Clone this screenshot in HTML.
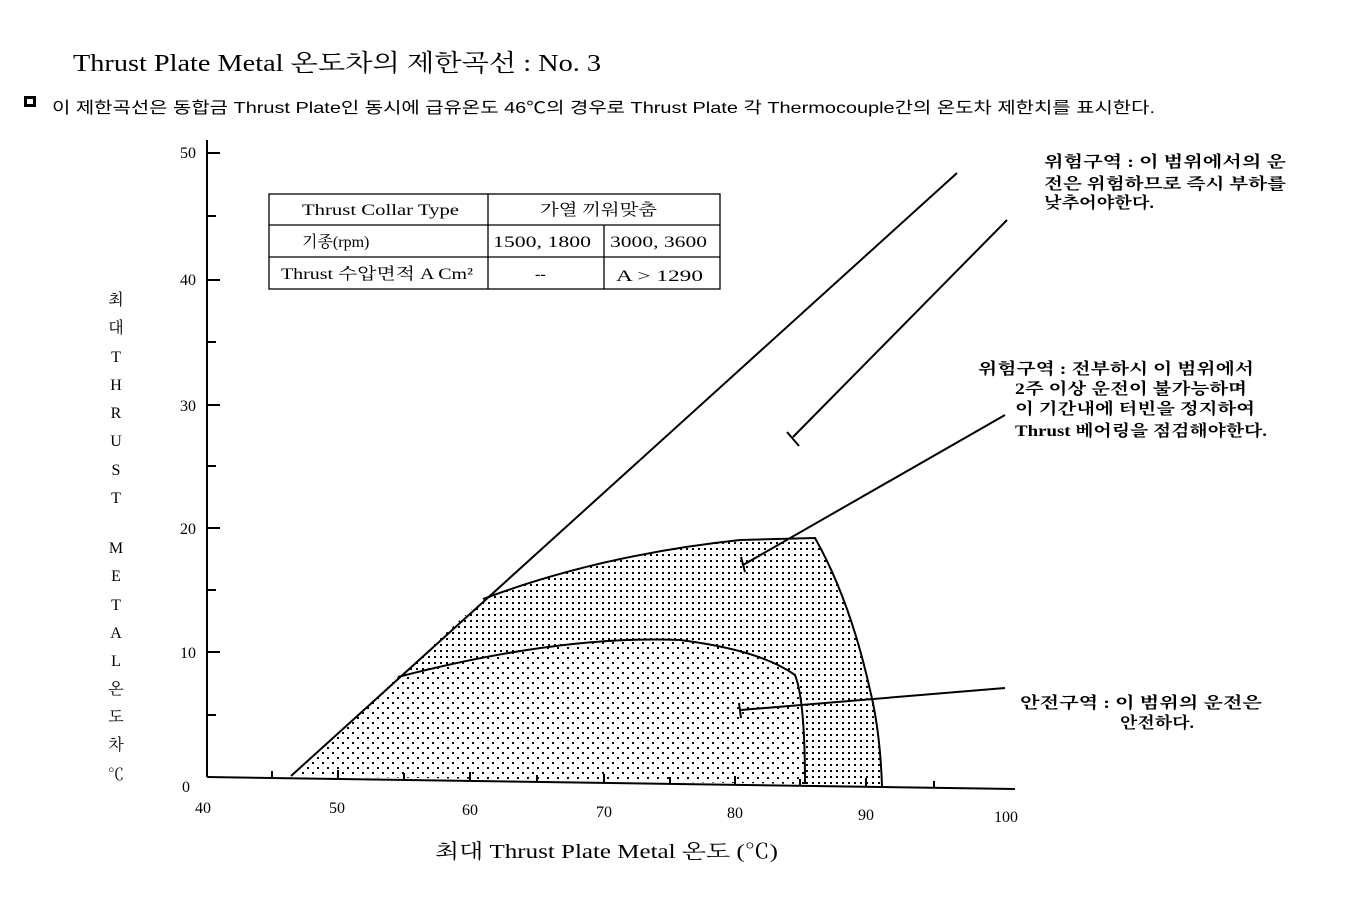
<!DOCTYPE html>
<html><head><meta charset="utf-8"><style>
body{margin:0;background:#fff;width:1347px;height:897px;overflow:hidden}
text{font-family:"Liberation Serif","Noto Serif CJK SC","Noto Sans CJK KR",serif;fill:#000}
.k{font-family:"Liberation Sans","Noto Sans CJK KR",sans-serif}
.b{font-weight:bold}
</style></head><body>
<svg width="1347" height="897" viewBox="0 0 1347 897" xmlns="http://www.w3.org/2000/svg">
<defs>
<pattern id="p1" width="10" height="10" patternUnits="userSpaceOnUse"><rect x="2" y="2" width="2" height="2" fill="#000"/><rect x="7" y="7" width="2" height="2" fill="#000"/></pattern>
<pattern id="p2" width="6" height="6" patternUnits="userSpaceOnUse"><rect x="2" y="2" width="2" height="2" fill="#000"/></pattern>
</defs>
<text x="73" y="71" font-size="24" textLength="528" lengthAdjust="spacingAndGlyphs">Thrust Plate Metal 온도차의 제한곡선 : No. 3</text>
<rect x="24" y="96" width="12" height="11" fill="#000"/>
<rect x="27" y="99" width="6" height="5" fill="#fff"/>
<text x="52" y="113" font-size="16" class="k" textLength="1103" lengthAdjust="spacingAndGlyphs">이 제한곡선은 동합금 Thrust Plate인 동시에 급유온도 46℃의 경우로 Thrust Plate 각 Thermocouple간의 온도차 제한치를 표시한다.</text>
<path d="M483,599 Q600,555 740,540 L815,538 Q850,600 870,690 Q880,730 882,786 L805,784 L805,780 Q805,700 795,675 Q760,650 680,640 Q560,635 398,677 Z" fill="url(#p2)" stroke="none"/>
<path d="M398,677 Q560,635 680,640 Q760,650 795,675 Q805,700 805,784 L291,776 Z" fill="url(#p1)"/>
<g fill="none" stroke="#000" stroke-width="2">
<path d="M483,599 Q600,555 740,540 L815,538 Q850,600 870,690 Q880,730 882,786"/>
<path d="M398,677 Q560,635 680,640 Q760,650 795,675 Q805,700 805,784"/>
<line x1="291" y1="776" x2="957" y2="173"/>
<line x1="1007" y1="220" x2="793" y2="437"/>
<line x1="787" y1="432" x2="799" y2="446"/>
<line x1="1005" y1="415" x2="743" y2="565"/>
<line x1="741" y1="557" x2="745" y2="572"/>
<line x1="1005" y1="688" x2="741" y2="710"/>
<line x1="739" y1="703" x2="741" y2="718"/>
<line x1="207" y1="140" x2="207" y2="777"/>
<line x1="207" y1="777" x2="1015" y2="789"/>
</g>
<g stroke="#000" stroke-width="2">
<line x1="207" y1="153" x2="220" y2="153"/><line x1="207" y1="280" x2="220" y2="280"/><line x1="207" y1="405" x2="220" y2="405"/><line x1="207" y1="528" x2="220" y2="528"/><line x1="207" y1="652" x2="220" y2="652"/>
<line x1="207" y1="216" x2="216" y2="216"/><line x1="207" y1="342" x2="216" y2="342"/><line x1="207" y1="466" x2="216" y2="466"/><line x1="207" y1="590" x2="216" y2="590"/><line x1="207" y1="715" x2="216" y2="715"/>
<line x1="338" y1="770" x2="338" y2="779"/><line x1="470" y1="772" x2="470" y2="781"/><line x1="604" y1="774" x2="604" y2="783"/><line x1="735" y1="776" x2="735" y2="785"/><line x1="866" y1="778" x2="866" y2="787"/>
<line x1="272" y1="771" x2="272" y2="778"/><line x1="404" y1="773" x2="404" y2="780"/><line x1="537" y1="775" x2="537" y2="782"/><line x1="670" y1="777" x2="670" y2="784"/><line x1="800" y1="779" x2="800" y2="786"/><line x1="934" y1="781" x2="934" y2="788"/>
</g>
<g font-size="16">
<text x="180" y="158">50</text><text x="180" y="285">40</text><text x="180" y="411">30</text><text x="180" y="534">20</text><text x="180" y="658">10</text><text x="182" y="792">0</text>
<text x="195" y="813">40</text><text x="329" y="813">50</text><text x="462" y="815">60</text><text x="596" y="817">70</text><text x="727" y="818">80</text><text x="858" y="820">90</text><text x="994" y="822">100</text>
</g>
<g font-size="16" text-anchor="middle">
<text x="116" y="305">최</text><text x="116" y="333">대</text><text x="116" y="362">T</text><text x="116" y="390">H</text><text x="116" y="418">R</text><text x="116" y="446">U</text><text x="116" y="475">S</text><text x="116" y="503">T</text><text x="116" y="553">M</text><text x="116" y="581">E</text><text x="116" y="610">T</text><text x="116" y="638">A</text><text x="116" y="666">L</text><text x="116" y="694">온</text><text x="116" y="722">도</text><text x="116" y="750">차</text><text x="116" y="780">℃</text>
</g>
<text x="435" y="858" font-size="20" textLength="343" lengthAdjust="spacingAndGlyphs">최대 Thrust Plate Metal 온도 (℃)</text>
<g fill="none" stroke="#000" stroke-width="1.3">
<rect x="269" y="194" width="451" height="95"/>
<line x1="269" y1="225" x2="720" y2="225"/><line x1="269" y1="257" x2="720" y2="257"/>
<line x1="488" y1="194" x2="488" y2="289"/><line x1="604" y1="225" x2="604" y2="289"/>
</g>
<g font-size="16">
<text x="302" y="215" textLength="157" lengthAdjust="spacingAndGlyphs">Thrust Collar Type</text><text x="540" y="215" textLength="117" lengthAdjust="spacingAndGlyphs">가열 끼워맞춤</text>
<text x="302" y="247">기종(rpm)</text><text x="493" y="247" textLength="98" lengthAdjust="spacingAndGlyphs">1500, 1800</text><text x="610" y="247" textLength="97" lengthAdjust="spacingAndGlyphs">3000, 3600</text>
<text x="281" y="279" textLength="192" lengthAdjust="spacingAndGlyphs">Thrust 수압면적 A Cm²</text><text x="535" y="279">--</text><text x="616" y="281" textLength="87" lengthAdjust="spacingAndGlyphs">A &gt; 1290</text>
</g>
<g font-size="16" class="k b">
<text x="1044" y="167" textLength="242" lengthAdjust="spacingAndGlyphs">위험구역 : 이 범위에서의 운</text>
<text x="1044" y="189" textLength="242" lengthAdjust="spacingAndGlyphs">전은 위험하므로 즉시 부하를</text>
<text x="1044" y="208" textLength="110" lengthAdjust="spacingAndGlyphs">낮추어야한다.</text>
<text x="978" y="374" textLength="276" lengthAdjust="spacingAndGlyphs">위험구역 : 전부하시 이 범위에서</text>
<text x="1015" y="394" textLength="232" lengthAdjust="spacingAndGlyphs">2주 이상 운전이 불가능하며</text>
<text x="1015" y="414" textLength="240" lengthAdjust="spacingAndGlyphs">이 기간내에 터빈을 정지하여</text>
<text x="1015" y="436" textLength="252" lengthAdjust="spacingAndGlyphs">Thrust 베어링을 점검해야한다.</text>
<text x="1020" y="708" textLength="242" lengthAdjust="spacingAndGlyphs">안전구역 : 이 범위의 운전은</text>
<text x="1120" y="728" textLength="74" lengthAdjust="spacingAndGlyphs">안전하다.</text>
</g>
</svg>
</body></html>
